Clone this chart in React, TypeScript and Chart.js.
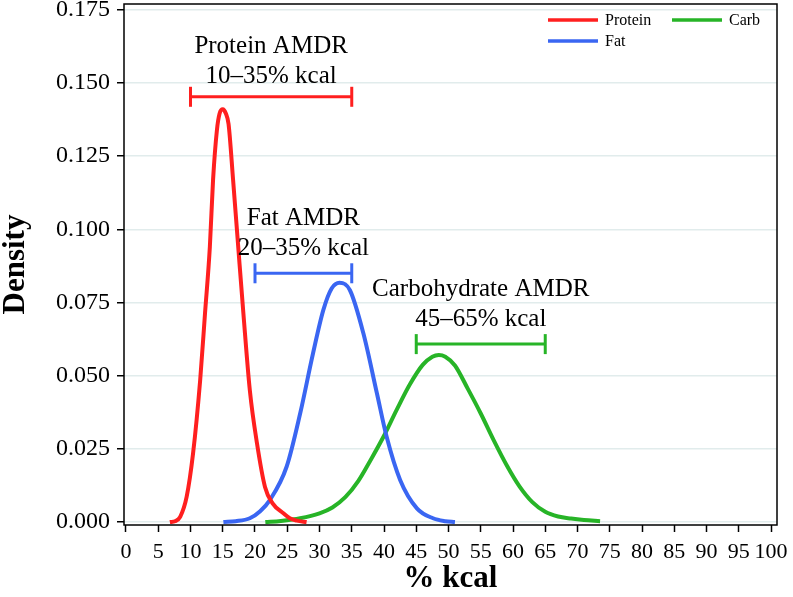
import React, { useEffect, useRef } from "react";
import { Chart, registerables } from "chart.js";

Chart.register(...registerables);

const SERIES_LABELS = ["Protein", "Fat", "Carb"];
const SERIES_COLORS = ["#ff1f1f", "#3a66f2", "#27b427"];

const PROTEIN_X = [6.8, 7.6, 8.4, 9.4, 10.4, 11.5, 12.25, 13.0, 13.5, 14.1, 14.5, 15.0, 15.5, 15.9, 16.6, 17.4, 18.2, 19.2, 20.3, 21.55, 22.7, 24.4, 25.4, 26.5, 28.0];
const PROTEIN_Y = [0, 0.0003, 0.0018, 0.0086, 0.0235, 0.0485, 0.0713, 0.094, 0.117, 0.134, 0.1395, 0.141, 0.1395, 0.136, 0.117, 0.094, 0.0713, 0.045, 0.027, 0.012, 0.0065, 0.003, 0.0013, 0.0005, 0];

const FAT_X = [15.1, 17.0, 19.2, 20.8, 22.3, 24.9, 27.0, 29.0, 30.6, 31.9, 33.1, 34.7, 36.8, 38.9, 40.4, 42.5, 45.1, 47.6, 49.5, 51.0];
const FAT_Y = [0, 0.0003, 0.0013, 0.0037, 0.0075, 0.0189, 0.0371, 0.0577, 0.0725, 0.0799, 0.0818, 0.0793, 0.0645, 0.044, 0.0292, 0.0144, 0.0047, 0.0013, 0.0003, 0];

const CARB_X = [21.6, 24, 27, 30, 32, 34, 36, 38, 40, 42, 44, 46, 47.5, 48.5, 49.5, 51, 53, 55, 57, 59, 61, 63, 65, 67, 69, 71, 73.5];
const CARB_Y = [0, 0.0004, 0.0013, 0.003, 0.005, 0.0085, 0.014, 0.0215, 0.0295, 0.0385, 0.047, 0.0537, 0.0565, 0.0571, 0.0565, 0.0535, 0.0455, 0.0371, 0.028, 0.0195, 0.0122, 0.0068, 0.0035, 0.0019, 0.0012, 0.0007, 0.0003];

const X_TICKS = [0, 5, 10, 15, 20, 25, 30, 35, 40, 45, 50, 55, 60, 65, 70, 75, 80, 85, 90, 95, 100];
const Y_TICKS = [0, 0.025, 0.05, 0.075, 0.1, 0.125, 0.15, 0.175];

const AMDR_LOW = [10, 20, 45];
const AMDR_HIGH = [35, 35, 65];
const AMDR_Y = [0.1453, 0.085, 0.0608];
const AMDR_TITLES = ["Protein AMDR", "Fat AMDR", "Carbohydrate AMDR"];
const AMDR_RANGES = ["10–35% kcal", "20–35% kcal", "45–65% kcal"];
const AMDR_TEXT_GAP = [14, 18, 18];

const X_TITLE = "% kcal";
const Y_TITLE = "Density";

const SERIF = '"Liberation Serif", "Times New Roman", serif';

const toPoints = (xs: number[], ys: number[]) => xs.map((x, i) => ({ x, y: ys[i] }));

const annotationPlugin = {
  id: "amdrText",
  afterDatasetsDraw(chart: any) {
    const { ctx, scales } = chart;
    ctx.save();
    ctx.fillStyle = "#000";
    ctx.font = `25px ${SERIF}`;
    ctx.textAlign = "center";
    ctx.textBaseline = "alphabetic";
    for (let i = 0; i < AMDR_TITLES.length; i++) {
      const cx = scales.x.getPixelForValue((AMDR_LOW[i] + AMDR_HIGH[i]) / 2);
      const by = scales.y.getPixelForValue(AMDR_Y[i]);
      ctx.fillText(AMDR_TITLES[i], cx, by - AMDR_TEXT_GAP[i] - 30);
      ctx.fillText(AMDR_RANGES[i], cx, by - AMDR_TEXT_GAP[i]);
    }
    ctx.restore();
  },
};

const framePlugin = {
  id: "frameLegend",
  afterDraw(chart: any) {
    const { ctx, chartArea } = chart;
    const { left, right, top, bottom } = chartArea;
    ctx.save();
    ctx.strokeStyle = "#000";
    ctx.lineWidth = 1.5;
    ctx.strokeRect(left, top, right - left, bottom - top);

    ctx.font = `16px ${SERIF}`;
    ctx.textBaseline = "middle";
    ctx.textAlign = "left";
    const colX = [right - 229, right - 105];
    const rowY = [top + 16, top + 37];
    for (let i = 0; i < SERIES_LABELS.length; i++) {
      const col = Math.floor(i / 2);
      const row = i % 2;
      const x0 = colX[col];
      const y0 = rowY[row];
      ctx.strokeStyle = chart.data.datasets[i].borderColor;
      ctx.lineWidth = 3.5;
      ctx.beginPath();
      ctx.moveTo(x0, y0);
      ctx.lineTo(x0 + 50, y0);
      ctx.stroke();
      ctx.fillStyle = "#000";
      ctx.fillText(SERIES_LABELS[i], x0 + 57, y0 + 1);
    }
    ctx.restore();
  },
};

export default function App() {
  const ref = useRef<HTMLCanvasElement | null>(null);

  useEffect(() => {
    if (!ref.current) return;
    const curves = [
      toPoints(PROTEIN_X, PROTEIN_Y),
      toPoints(FAT_X, FAT_Y),
      toPoints(CARB_X, CARB_Y),
    ];
    const curveSets = curves.map((data, i) => ({
      label: SERIES_LABELS[i],
      data,
      borderColor: SERIES_COLORS[i],
      backgroundColor: SERIES_COLORS[i],
      borderWidth: 4,
      pointRadius: 0,
      cubicInterpolationMode: "monotone" as const,
      fill: false,
    }));
    const barSets = AMDR_LOW.map((lo, i) => ({
      label: AMDR_TITLES[i],
      data: [
        { x: lo, y: AMDR_Y[i] },
        { x: AMDR_HIGH[i], y: AMDR_Y[i] },
      ],
      borderColor: SERIES_COLORS[i],
      backgroundColor: SERIES_COLORS[i],
      borderWidth: 3,
      tension: 0,
      pointStyle: "line" as const,
      pointRadius: 10,
      pointRotation: 90,
      pointBorderColor: SERIES_COLORS[i],
      pointBorderWidth: 3,
      fill: false,
    }));

    const chart = new Chart(ref.current, {
      type: "line",
      data: { datasets: [...curveSets, ...barSets] as any },
      options: {
        responsive: false,
        animation: false,
        events: [],
        layout: { autoPadding: false, padding: { top: 4, right: 16, left: 0, bottom: 0 } },
        plugins: {
          legend: { display: false },
          tooltip: { enabled: false },
        },
        scales: {
          x: {
            type: "linear",
            min: -0.31,
            max: 100.93,
            afterBuildTicks: (s: any) => {
              s.ticks = X_TICKS.map((v) => ({ value: v }));
            },
            afterFit: (s: any) => {
              s.height = 72;
              s.paddingLeft = 0;
              s.paddingRight = 0;
            },
            grid: {
              drawOnChartArea: false,
              drawTicks: true,
              tickLength: 7,
              tickColor: "#000",
              tickWidth: 1.5,
            },
            border: { display: false },
            ticks: {
              autoSkip: false,
              maxRotation: 0,
              padding: 7,
              color: "#000",
              font: { family: SERIF, size: 22 },
              callback: (v: any) => String(v),
            },
            title: {
              display: true,
              text: X_TITLE,
              color: "#000",
              font: { family: SERIF, size: 31, weight: "bold", lineHeight: 1 },
              padding: { top: 0, bottom: 3 },
            },
          },
          y: {
            type: "linear",
            min: -0.001,
            max: 0.177,
            afterBuildTicks: (s: any) => {
              s.ticks = Y_TICKS.map((v) => ({ value: v }));
            },
            afterFit: (s: any) => {
              s.width = 124;
              s.paddingTop = 0;
              s.paddingBottom = 0;
            },
            grid: {
              color: "#e1ecec",
              lineWidth: 1.5,
              drawTicks: true,
              tickLength: 7,
              tickColor: "#000",
              tickWidth: 1.5,
            },
            border: { display: false },
            ticks: {
              padding: 7,
              color: "#000",
              font: { family: SERIF, size: 24 },
              callback: (v: any) => Number(v).toFixed(3),
            },
            title: {
              display: true,
              text: Y_TITLE,
              color: "#000",
              font: { family: SERIF, size: 31, weight: "bold", lineHeight: 1 },
              padding: { top: 0, bottom: 0 },
            },
          },
        },
      },
      plugins: [annotationPlugin, framePlugin],
    });
    return () => chart.destroy();
  }, []);

  return (
    <div style={{ position: "absolute", left: 0, top: 0, width: 793, height: 597, background: "#fff" }}>
      <canvas ref={ref} width={793} height={597} style={{ width: 793, height: 597, display: "block" }} />
    </div>
  );
}
